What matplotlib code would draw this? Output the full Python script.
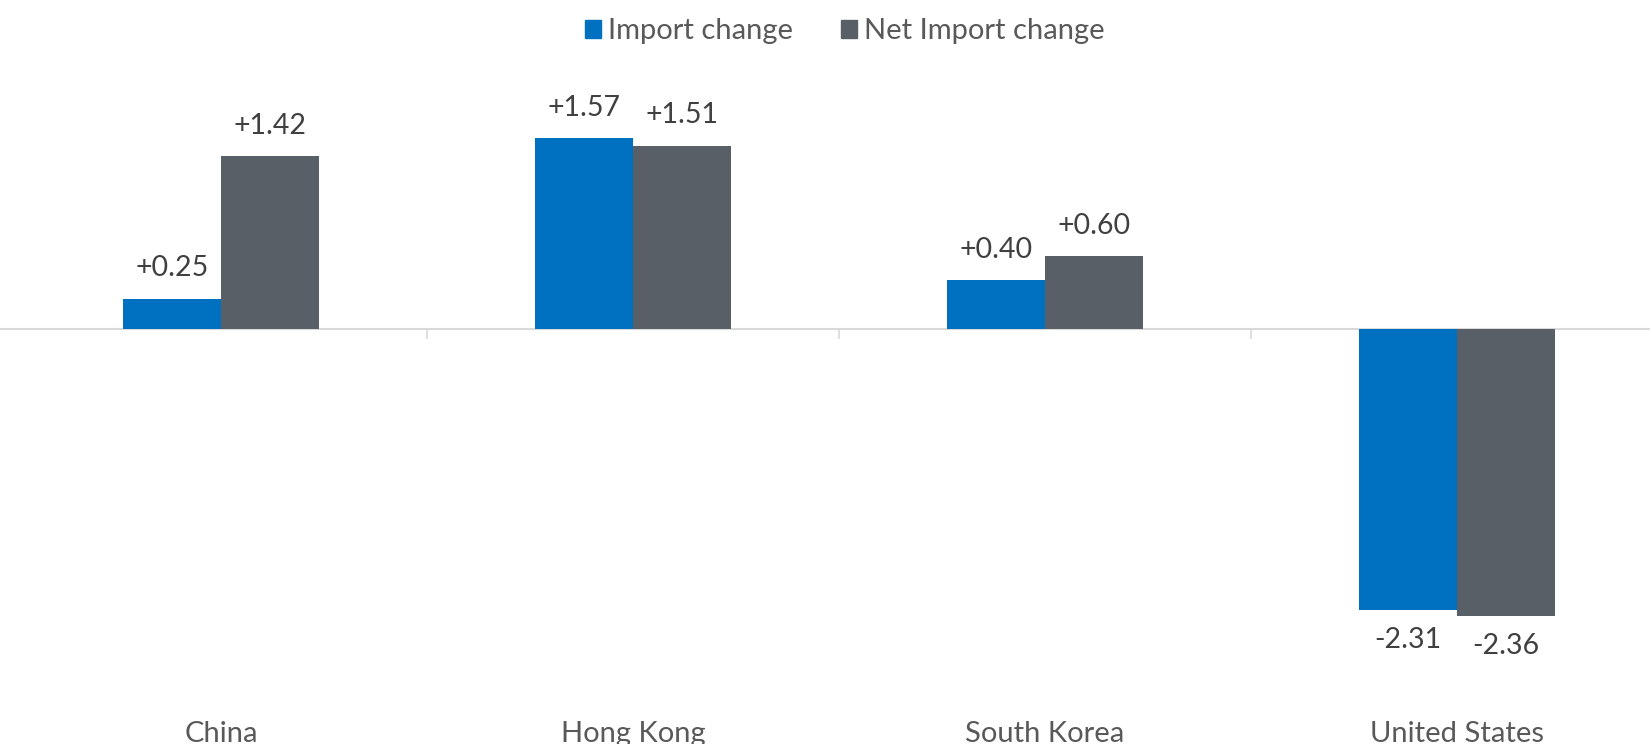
"""import / net import change by economy, grouped bars"""

from matplotlib import pyplot as plt
from matplotlib.patches import Patch
import numpy as np

plt.rcParams['font.family'] = ['Lato', 'DejaVu Sans']

countries = ['China', 'Hong Kong', 'South Korea', 'United States']
import_change = [0.25, 1.57, 0.40, -2.31]
net_import_change = [1.42, 1.51, 0.60, -2.36]
series_names = ['Import change', 'Net Import change']

blue = '#0070C0'
grey = '#595F66'
label_col = '#404040'
cat_col = '#595959'

f = plt.figure(figsize=(16.5, 7.44), dpi=100)
ax = f.add_axes([0, 0, 1, 1])
ax.axis('off')

x = np.arange(len(countries))
w = 0.238
b1 = ax.bar(x - w / 2, import_change, w, color=blue, zorder=2)
b2 = ax.bar(x + w / 2, net_import_change, w, color=grey, zorder=2)

# zero line and the little category divider ticks
ax.axhline(0, color='#D9D9D9', lw=1.5, zorder=1)
ax.vlines(x[:-1] + 0.5, -0.085, 0, color='#D9D9D9', lw=1.2, zorder=1)

for bars in (b1, b2):
    for r in bars:
        v = r.get_height()
        off = 22 if v >= 0 else -22
        ax.annotate('%+.2f' % v, (r.get_x() + r.get_width() / 2, v),
                    xytext=(0, off), textcoords='offset points',
                    ha='center', va='center', fontsize=20.5, color=label_col)

for xi, name in zip(x, countries):
    ax.text(xi, 0.013, name, transform=ax.get_xaxis_transform(),
            ha='center', va='center', fontsize=21, color=cat_col)

ax.set_xlim(-0.536, 3.468)
ax.set_ylim(-3.416, 2.708)

handles = [Patch(color=blue), Patch(color=grey)]
f.legend(handles, series_names, loc='center', bbox_to_anchor=(0.512, 0.958),
         ncol=2, frameon=False, fontsize=21, labelcolor=cat_col,
         handlelength=0.55, handleheight=0.55, handletextpad=0.25, columnspacing=1.65)

plt.savefig('out.png')
